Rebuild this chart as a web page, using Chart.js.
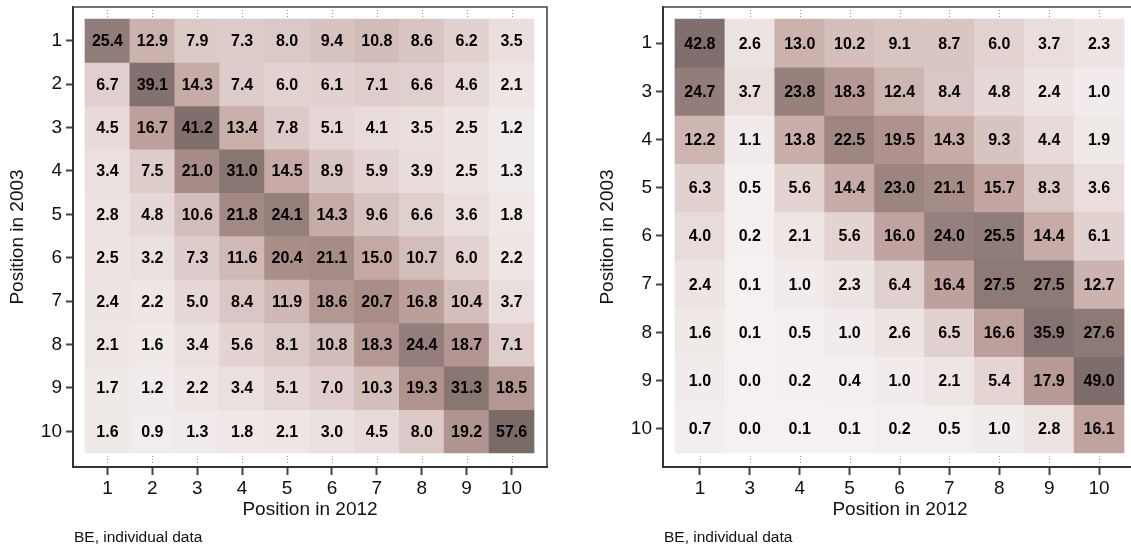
<!DOCTYPE html>
<html>
<head>
<meta charset="utf-8">
<script src="https://cdn.jsdelivr.net/npm/chart.js@4.4.1/dist/chart.umd.min.js"></script>
<style>
  html, body { margin: 0; padding: 0; background: #fff; width: 1131px; height: 549px; overflow: hidden; position: relative; }
  .panel { position: absolute; top: 0; width: 565px; height: 549px; }
  .note { position: absolute; top: 528px; font: 15.5px "Liberation Sans", Arial, sans-serif; color: #111; white-space: nowrap; }
</style>
</head>
<body>
<div class="panel" style="left:0"><canvas id="left" width="565" height="549"></canvas></div>
<div class="panel" style="left:590px"><canvas id="right" width="565" height="549"></canvas></div>
<div class="note" style="left:74px">BE, individual data</div>
<div class="note" style="left:664px">BE, individual data</div>
<script>
// positions in 2003 (rows) and 2012 (columns)
const rowsLeft = ["1", "2", "3", "4", "5", "6", "7", "8", "9", "10"];
const colsLeft = ["1", "2", "3", "4", "5", "6", "7", "8", "9", "10"];
const valuesLeft = [
  [25.4, 12.9, 7.9, 7.3, 8.0, 9.4, 10.8, 8.6, 6.2, 3.5],
  [6.7, 39.1, 14.3, 7.4, 6.0, 6.1, 7.1, 6.6, 4.6, 2.1],
  [4.5, 16.7, 41.2, 13.4, 7.8, 5.1, 4.1, 3.5, 2.5, 1.2],
  [3.4, 7.5, 21.0, 31.0, 14.5, 8.9, 5.9, 3.9, 2.5, 1.3],
  [2.8, 4.8, 10.6, 21.8, 24.1, 14.3, 9.6, 6.6, 3.6, 1.8],
  [2.5, 3.2, 7.3, 11.6, 20.4, 21.1, 15.0, 10.7, 6.0, 2.2],
  [2.4, 2.2, 5.0, 8.4, 11.9, 18.6, 20.7, 16.8, 10.4, 3.7],
  [2.1, 1.6, 3.4, 5.6, 8.1, 10.8, 18.3, 24.4, 18.7, 7.1],
  [1.7, 1.2, 2.2, 3.4, 5.1, 7.0, 10.3, 19.3, 31.3, 18.5],
  [1.6, 0.9, 1.3, 1.8, 2.1, 3.0, 4.5, 8.0, 19.2, 57.6]
];

const rowsRight = ["1", "3", "4", "5", "6", "7", "8", "9", "10"];
const colsRight = ["1", "3", "4", "5", "6", "7", "8", "9", "10"];
const valuesRight = [
  [42.8, 2.6, 13.0, 10.2, 9.1, 8.7, 6.0, 3.7, 2.3],
  [24.7, 3.7, 23.8, 18.3, 12.4, 8.4, 4.8, 2.4, 1.0],
  [12.2, 1.1, 13.8, 22.5, 19.5, 14.3, 9.3, 4.4, 1.9],
  [6.3, 0.5, 5.6, 14.4, 23.0, 21.1, 15.7, 8.3, 3.6],
  [4.0, 0.2, 2.1, 5.6, 16.0, 24.0, 25.5, 14.4, 6.1],
  [2.4, 0.1, 1.0, 2.3, 6.4, 16.4, 27.5, 27.5, 12.7],
  [1.6, 0.1, 0.5, 1.0, 2.6, 6.5, 16.6, 35.9, 27.6],
  [1.0, 0.0, 0.2, 0.4, 1.0, 2.1, 5.4, 17.9, 49.0],
  [0.7, 0.0, 0.1, 0.1, 0.2, 0.5, 1.0, 2.8, 16.1]
];

const FONT = '"Liberation Sans", Arial, Helvetica, sans-serif';

// farbskala: hell -> rosa -> dunkles graubraun
const stops = [
  [0, [244, 241, 240]],
  [2, [238, 231, 230]],
  [5, [229, 215, 213]],
  [10, [213, 192, 189]],
  [15, [197, 168, 163]],
  [20, [172, 144, 139]],
  [25, [145, 124, 121]],
  [32, [135, 117, 114]],
  [42, [128, 111, 109]],
  [60, [121, 105, 103]]
];

function cellColor(v) {
  for (let k = 1; k < stops.length; k++) {
    if (v <= stops[k][0]) {
      let a = stops[k - 1], b = stops[k];
      let t = (v - a[0]) / (b[0] - a[0]);
      let c = a[1].map((ch, n) => Math.round(ch + (b[1][n] - ch) * t));
      return "rgb(" + c.join(",") + ")";
    }
  }
  return "rgb(" + stops[stops.length - 1][1].join(",") + ")";
}

function makeHeatmap(id, rowLabels, colLabels, values) {
  let nR = rowLabels.length;
  let nC = colLabels.length;
  // rand zwischen rahmen und zellen (px)
  let cellW = (474 - 25) / nC;
  let cellH = (460 - 26) / nR;

  let datasets = values.map((row, i) => ({
    data: row.map((v, j) => ({ x: j + 1, y: [i + 0.5, i + 1.5] })),
    backgroundColor: row.map(cellColor),
    borderWidth: 0,
    grouped: false,
    categoryPercentage: 1,
    barPercentage: 1
  }));

  let cellText = {
    id: "cellText",
    afterDatasetsDraw(chart) {
      let ctx = chart.ctx;
      ctx.save();
      ctx.font = "bold 16px " + FONT;
      ctx.fillStyle = "#000";
      ctx.textAlign = "center";
      ctx.textBaseline = "middle";
      values.forEach((row, i) => {
        let meta = chart.getDatasetMeta(i);
        meta.data.forEach((bar, j) => {
          ctx.fillText(row[j].toFixed(1), bar.x, (bar.y + bar.base) / 2 + 1);
        });
      });
      ctx.restore();
    }
  };

  let frame = {
    id: "frame",
    afterDraw(chart) {
      let a = chart.chartArea;
      let ctx = chart.ctx;
      ctx.save();
      ctx.lineWidth = 1.6;
      ctx.strokeStyle = "#444";
      ctx.beginPath();
      ctx.moveTo(a.left, a.top);
      ctx.lineTo(a.right, a.top);
      ctx.lineTo(a.right, a.bottom);
      ctx.stroke();
      // gepunktete markierungen oben und unten
      ctx.strokeStyle = "#999";
      ctx.lineWidth = 1;
      ctx.setLineDash([1, 2]);
      let xs = chart.scales.x;
      colLabels.forEach((_, j) => {
        let px = Math.round(xs.getPixelForValue(j + 1)) + 0.5;
        ctx.beginPath();
        ctx.moveTo(px, a.top + 3);
        ctx.lineTo(px, a.top + 12);
        ctx.moveTo(px, a.bottom - 11);
        ctx.lineTo(px, a.bottom - 3);
        ctx.stroke();
      });
      ctx.restore();
    }
  };

  new Chart(document.getElementById(id), {
    type: "bar",
    data: { datasets: datasets },
    plugins: [cellText, frame],
    options: {
      responsive: false,
      animation: false,
      layout: { padding: { left: 0, top: 7, right: 18, bottom: 0 } },
      plugins: { legend: { display: false }, tooltip: { enabled: false } },
      scales: {
        x: {
          type: "linear",
          offset: false,
          min: 0.5 - 12 / cellW,
          max: nC + 0.5 + 13 / cellW,
          afterBuildTicks: (s) => { s.ticks = colLabels.map((_, j) => ({ value: j + 1 })); },
          afterFit: (s) => { s.height = 82; s.paddingLeft = 0; s.paddingRight = 0; },
          ticks: {
            callback: (v) => colLabels[v - 1],
            font: { family: FONT, size: 19 },
            color: "#111",
            padding: 2,
            maxRotation: 0,
            autoSkip: false
          },
          grid: { offset: false, drawOnChartArea: false, drawTicks: true, tickLength: 8, tickColor: "#444", tickWidth: 2 },
          border: { color: "#333", width: 2 },
          title: {
            display: true,
            text: "Position in 2012",
            font: { family: FONT, size: 19 },
            color: "#111",
            padding: { top: 28, bottom: 28 }
          }
        },
        y: {
          type: "linear",
          reverse: true,
          min: 0.5 - 12 / cellH,
          max: nR + 0.5 + 14 / cellH,
          afterBuildTicks: (s) => { s.ticks = rowLabels.map((_, i) => ({ value: i + 1 })); },
          afterFit: (s) => { s.width = 73; s.paddingTop = 0; s.paddingBottom = 0; },
          ticks: {
            callback: (v) => rowLabels[v - 1],
            font: { family: FONT, size: 19 },
            color: "#111",
            padding: 4,
            autoSkip: false
          },
          grid: { drawOnChartArea: false, drawTicks: true, tickLength: 7, tickColor: "#444", tickWidth: 2 },
          border: { color: "#333", width: 2 },
          title: {
            display: true,
            text: "Position in 2003",
            font: { family: FONT, size: 19 },
            color: "#111",
            padding: { top: 6, bottom: 6 }
          }
        }
      }
    }
  });
}

makeHeatmap("left", rowsLeft, colsLeft, valuesLeft);
makeHeatmap("right", rowsRight, colsRight, valuesRight);
</script>
</body>
</html>
